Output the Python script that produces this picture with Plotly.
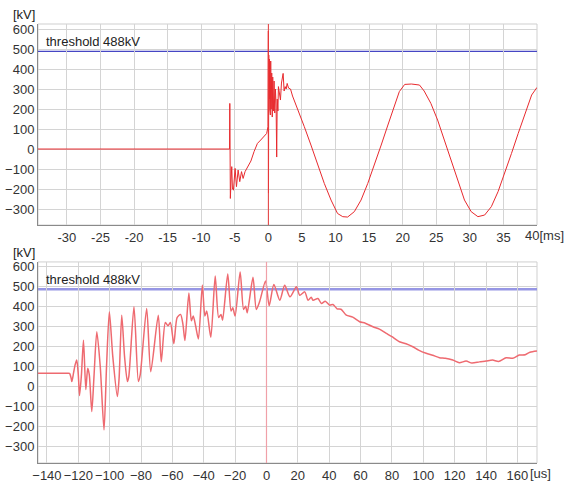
import plotly.graph_objects as go

# ---- top panel: ms time scale ----
t_ms = [-34.3, -5.78, -5.74, -5.66, -5.55, -5.45, -5.35, -5.2, -4.95, -4.75, -4.5, -4.26,
        -4.0, -3.76, -3.47, -3.1, -2.6, -2.13, -1.63, -1.14, -0.64, -0.25, -0.05, 0.0, 0.02,
        0.06, 0.1, 0.15, 0.2, 0.25, 0.3, 0.35, 0.42, 0.5, 0.58, 0.65, 0.75, 0.85, 0.95, 1.05,
        1.15, 1.24, 1.32, 1.42, 1.5, 1.65, 1.8, 1.95, 2.2, 2.35, 2.5, 2.65, 2.8, 3.0, 3.3, 3.6,
        4.35, 5.35, 6.34, 7.34, 8.33, 9.33, 10.3, 11.07, 11.8, 12.8, 13.8, 14.8, 15.8, 16.8,
        17.8, 18.75, 19.5, 20.3, 21.3, 22.5, 23.2, 24.2, 25.2, 26.2, 27.2, 28.2, 29.2, 30.2,
        31.2, 32.2, 33.2, 34.2, 35.2, 36.2, 37.2, 38.2, 39.2, 40.0]
v_ms = [0, 0, 228, -247, -150, -88, -200, -205, -97, -188, -105, -163,
        -113, -147, -113, -88, -60, -13, 28, 45, 62, 78, 112, 590, -220,
        470, 250, 450, 200, 420, 170, 440, 200, 380, 160, 360, 190, 340, 180, 300,
        220, -40, 250, 190, 312, 260, 245, 330, 378, 290, 312, 300, 328, 305, 300, 265,
        203, 112, 20, -80, -172, -255, -322, -338, -340, -313, -255, -172, -80, 20,
        120, 220, 287, 323, 325, 320, 290, 228, 145, 45, -55, -155, -255, -313,
        -338, -330, -288, -213, -122, -22, 78, 178, 270, 308]

# ---- bottom panel: us time scale ----
t_us = [-145.7, -127, -125.6, -124.5, -124.1, -123, -122, -121, -120, -119.2, -118, -116.7,
        -115.2, -114, -113, -111.4, -110, -108.2, -106, -103.6, -102, -100.2, -98, -95.1,
        -94, -92.3, -90.5, -88.7, -87.8, -84.5, -81.7, -80.5, -76.4, -73.8, -69, -67.1,
        -64.5, -62.8, -61.3, -59.1, -57, -54.8, -53.3, -52, -49.5, -47.9, -46.7, -45.2,
        -43.4, -40.9, -39.3, -38.1, -35.5, -32.7, -30.5, -29, -28, -24.7, -22.6, -21.5,
        -20, -16.8, -14.6, -13.3, -12.3, -8.6, -6.5, -4.3, -0.6, 1.7, 4.7, 8.5, 11.6, 15,
        19.1, 21.2, 24.4, 26.5, 28.5, 29.7, 32.8, 35, 37.5, 40.3, 42.4, 45, 47.5, 50.9, 55,
        59.4, 63, 67.9, 72, 76.4, 80, 84.8, 89, 93.3, 97, 101.8, 106, 110.3, 114, 118.8,
        123, 127.3, 131, 135.8, 140, 144.2, 148, 152.8, 157, 161.2, 165, 168, 172.5]
v_us = [67, 67, 66, 40, 25, 70, 110, 133, 60, -45, 60, 233,
        -15, 92, 60, -125, 50, 275, 100, -217, 100, 375, 150, -50,
        40, 358, 150, 25, 50, 400, 25, 60, 392, 75, 358, 124,
        321, 305, 321, 215, 346, 362, 313, 231, 469, 330, 354, 305,
        239, 510, 354, 379, 247, 555, 346, 362, 333, 565, 379, 395,
        354, 575, 387, 403, 370, 548, 387, 428, 530, 405, 512, 433, 508, 450,
        500, 458, 475, 433, 448, 433, 442, 417, 428, 408, 412, 390, 388, 358, 348,
        325, 318, 300, 288, 267, 250, 225, 215, 200, 183, 167, 157, 145, 142, 133,
        120, 128, 118, 124, 128, 133, 126, 145, 142, 158, 160, 172, 178]

ms_ticks = [-30, -25, -20, -15, -10, -5, 0, 5, 10, 15, 20, 25, 30, 35, 40]
ms_ticktext = ["-30", "-25", "-20", "-15", "-10", "-5", "0", "5", "10", "15", "20", "25", "30", "35", ""]
us_ticks = [-140, -120, -100, -80, -60, -40, -20, 0, 20, 40, 60, 80, 100, 120, 140, 160]
kv_ticks = [-300, -200, -100, 0, 100, 200, 300, 400, 500, 600]
threshold = 488

FONT = "Liberation Sans, Arial, sans-serif"
GRID = "#d4d4d4"
AXL = "#8a8a8a"

fig = go.Figure()
fig.add_trace(go.Scatter(x=t_ms, y=v_ms, mode="lines", xaxis="x", yaxis="y",
                         line=dict(color="#e82a2e", width=1), showlegend=False))
fig.add_trace(go.Scatter(x=t_us, y=v_us, mode="lines", xaxis="x2", yaxis="y2",
                         line=dict(color="#ee6a70", width=1.5, shape="spline", smoothing=0.7),
                         showlegend=False))

common_axis = dict(showgrid=True, gridcolor=GRID, gridwidth=1, zeroline=False,
                   showline=True, linecolor=AXL, linewidth=1, ticks="", automargin=False,
                   tickfont=dict(family=FONT, size=13, color="#333"))

fig.update_layout(
    width=567, height=484, autosize=False,
    margin=dict(l=38, r=30, t=24, b=21, autoexpand=False),
    paper_bgcolor="white", plot_bgcolor="white",
    xaxis=dict(domain=[0, 1], anchor="y", range=[-34.3, 40], tickvals=ms_ticks,
               ticktext=ms_ticktext, **common_axis),
    yaxis=dict(domain=[0.542, 1], anchor="x", range=[-380, 625], tickvals=kv_ticks, **common_axis),
    xaxis2=dict(domain=[0, 1], anchor="y2", range=[-145.7, 172.5], tickvals=us_ticks, **common_axis),
    yaxis2=dict(domain=[0, 0.458], anchor="x2", range=[-383, 625], tickvals=kv_ticks, **common_axis),
)

shapes = []
for xr, yr, tc, tw, cc, cw in [("x", "y", "#4646c4", 1.2, "#e83a3a", 1),
                               ("x2", "y2", "#9696e4", 2.5, "#f0a0a8", 1.2)]:
    shapes.append(dict(type="rect", xref=xr + " domain", yref=yr + " domain",
                       x0=0, x1=1, y0=0, y1=1, line=dict(color="#cfcfcf", width=1), layer="below"))
    shapes.append(dict(type="line", xref=xr + " domain", yref=yr, x0=0, x1=1,
                       y0=threshold, y1=threshold, line=dict(color=tc, width=tw), layer="below"))
    shapes.append(dict(type="line", xref=xr, yref=yr + " domain", x0=0, x1=0, y0=0, y1=1,
                       line=dict(color=cc, width=cw), layer="above"))
fig.update_layout(shapes=shapes)

ann = []
for yr, xr in [("y", "x"), ("y2", "x2")]:
    ann.append(dict(text="threshold %dkV" % threshold, xref="paper", yref=yr, x=0.013, y=threshold,
                    xanchor="left", yanchor="bottom", showarrow=False,
                    font=dict(family=FONT, size=13, color="#222")))
    ann.append(dict(text="[kV]", xref="paper", yref=yr, x=-0.054, y=625, xanchor="left",
                    yanchor="bottom", yshift=0, showarrow=False,
                    font=dict(family=FONT, size=13, color="#222")))
# unit labels next to the last tick
ann.append(dict(text="%d[ms]" % ms_ticks[-1], xref="paper", yref="paper", x=(566 - 38) / 499, y=0.542,
                xanchor="right", yanchor="top", yshift=-1, showarrow=False,
                font=dict(family=FONT, size=13, color="#333")))
ann.append(dict(text="[us]", xref="x2", yref="paper", x=us_ticks[-1], y=0.0,
                xanchor="left", yanchor="top", xshift=11, yshift=-1, showarrow=False,
                font=dict(family=FONT, size=13, color="#333")))
fig.update_layout(annotations=ann)

fig.write_html("out.html", config={"displayModeBar": False},
               post_script="document.body.style.margin='0';document.body.style.overflow='hidden';")
